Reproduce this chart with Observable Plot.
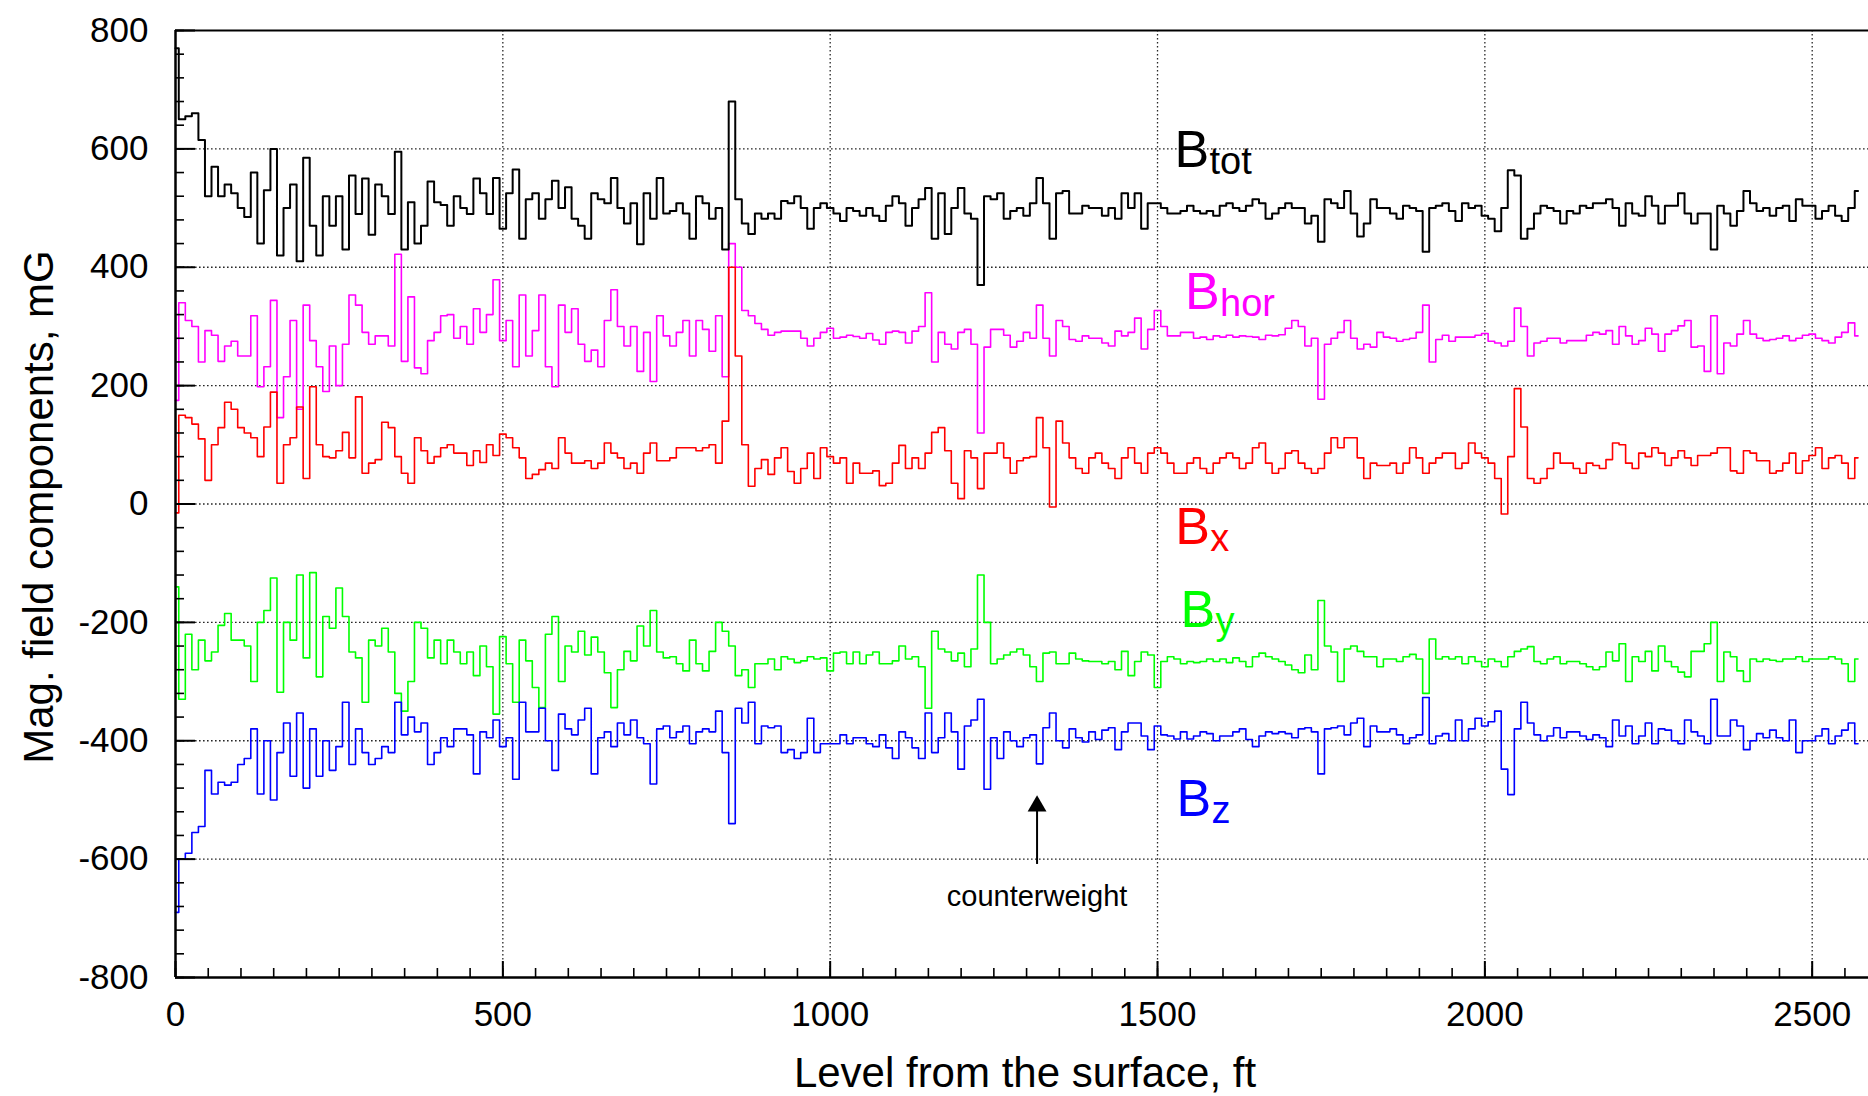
<!DOCTYPE html>
<html><head><meta charset="utf-8">
<script src="https://cdn.jsdelivr.net/npm/d3@7"></script>
<script src="https://cdn.jsdelivr.net/npm/@observablehq/plot@0.6"></script>
<style>
html,body{margin:0;padding:0;background:#fff;overflow:hidden;}
#chart svg{display:block;}
</style></head><body><div id="chart"></div>
<script>
// sampling interval along the shaft (ft); sample i is at depth i*step
const step = 10;

const Btot = [
 770,650,655,660,615,520,570,520,540,525,
 500,485,560,440,530,600,420,500,540,410,
 585,470,420,520,470,520,430,555,490,550,
 455,540,520,490,595,430,510,440,470,545,
 510,505,470,520,500,490,550,525,490,551,
 465,525,565,448,515,525,482,515,546,500,
 535,482,470,448,525,515,508,551,500,474,
 508,439,525,482,551,491,495,508,491,448,
 520,508,482,500,430,680,515,474,456,491,
 482,491,482,512,508,520,500,465,500,508,
 500,491,478,500,495,487,500,487,478,504,
 520,508,470,500,515,534,448,525,456,500,
 534,491,482,370,520,515,525,482,495,500,
 487,508,551,508,448,525,529,491,491,504,
 500,500,487,500,482,525,500,525,465,508,
 508,500,491,491,495,504,495,491,495,487,
 504,508,500,495,504,515,508,482,491,500,
 508,500,500,474,487,443,515,508,500,529,
 491,452,474,515,500,500,491,482,504,500,
 495,426,500,504,508,495,478,508,500,504,
 487,482,461,500,564,555,448,465,491,504,
 500,495,474,495,491,504,500,508,508,515,
 500,470,508,491,487,520,504,474,504,504,
 525,491,474,491,491,430,504,491,470,495,
 529,508,495,500,487,500,504,478,515,504,
 504,482,495,504,487,478,500,529
];

const Bhor = [
 175,340,310,300,240,293,285,241,267,275,
 250,250,318,198,232,344,146,215,310,160,
 336,276,232,190,267,200,270,353,336,290,
 270,284,284,267,422,241,350,230,220,276,
 290,318,320,280,300,270,330,290,320,379,
 276,310,232,353,250,293,353,232,198,336,
 290,330,270,241,260,232,310,362,300,267,
 300,224,290,207,318,284,267,290,310,250,
 310,295,258,318,215,440,400,327,318,305,
 295,285,290,292,292,292,280,267,280,290,
 297,280,282,285,283,280,288,277,270,290,
 292,290,272,292,300,357,240,290,270,262,
 290,295,270,120,265,295,295,285,265,275,
 290,280,336,280,250,310,300,278,275,284,
 280,280,272,267,292,284,290,314,262,295,
 327,300,284,284,290,290,280,282,278,284,
 282,285,282,284,283,282,278,285,284,286,
 297,310,300,267,280,177,270,280,290,310,
 280,262,270,265,290,282,280,275,278,280,
 290,336,240,278,285,275,282,282,282,285,
 288,275,272,267,275,331,300,250,272,275,
 280,280,272,276,276,276,285,290,287,293,
 270,300,284,270,276,297,287,258,287,293,
 301,310,265,267,224,318,220,272,267,287,
 310,287,280,276,278,280,284,276,280,285,
 287,280,276,272,282,290,306,284
];

const Bx = [
 -15,150,146,135,110,40,100,129,172,160,
 129,120,112,80,130,189,35,100,112,164,
 43,198,100,80,78,90,121,78,181,52,
 69,75,138,129,80,52,35,112,90,69,
 80,95,100,86,86,65,90,70,100,82,
 118,112,95,78,43,50,58,69,60,112,
 86,69,69,73,60,69,103,86,78,60,
 69,52,86,103,73,73,78,95,95,95,
 90,95,100,69,140,400,250,100,30,60,
 75,50,78,95,55,35,60,86,43,95,
 80,69,78,35,69,52,52,56,31,35,
 69,99,60,78,60,86,121,129,90,35,
 9,90,78,26,86,86,103,78,52,73,
 78,80,146,95,-5,140,103,78,60,52,
 78,86,69,60,43,78,95,69,52,86,
 95,86,69,52,52,69,78,60,52,69,
 78,86,78,60,69,95,103,69,52,60,
 86,90,69,60,52,60,86,112,95,112,
 112,78,43,69,65,65,69,52,69,95,
 78,52,69,78,86,86,60,69,103,86,
 78,69,43,-17,80,195,130,43,35,43,
 60,86,69,69,60,52,69,65,60,75,
 103,100,69,60,86,80,95,86,65,78,
 90,78,65,82,82,86,95,95,56,52,
 90,86,73,73,52,56,69,86,52,73,
 82,95,60,78,82,69,43,78
];

const By = [
 -140,-330,-220,-280,-230,-265,-250,-205,-185,-230,
 -230,-240,-300,-200,-180,-125,-318,-200,-230,-120,
 -260,-116,-292,-190,-210,-142,-190,-250,-260,-335,
 -230,-240,-210,-250,-320,-350,-300,-200,-210,-260,
 -230,-270,-230,-250,-270,-250,-290,-240,-275,-355,
 -224,-270,-335,-230,-265,-310,-344,-220,-190,-300,
 -240,-250,-215,-255,-225,-250,-285,-344,-280,-249,
 -265,-206,-240,-180,-250,-260,-258,-270,-282,-230,
 -270,-282,-249,-200,-215,-240,-290,-280,-310,-270,
 -270,-262,-280,-258,-262,-268,-265,-258,-262,-260,
 -282,-252,-250,-270,-250,-270,-255,-250,-270,-270,
 -265,-240,-262,-258,-275,-345,-215,-245,-250,-265,
 -252,-275,-245,-120,-200,-270,-262,-255,-250,-245,
 -255,-275,-300,-252,-250,-270,-270,-252,-262,-265,
 -266,-266,-270,-266,-280,-249,-290,-266,-250,-255,
 -310,-266,-258,-262,-270,-266,-268,-266,-262,-266,
 -262,-268,-260,-266,-275,-258,-252,-258,-262,-266,
 -272,-280,-285,-255,-280,-163,-240,-250,-300,-245,
 -240,-249,-258,-258,-275,-262,-262,-266,-258,-254,
 -262,-320,-228,-262,-258,-262,-258,-270,-258,-266,
 -275,-262,-266,-275,-258,-249,-245,-241,-266,-270,
 -262,-258,-270,-266,-266,-270,-275,-280,-275,-250,
 -265,-236,-300,-258,-266,-249,-282,-240,-266,-275,
 -284,-292,-249,-249,-236,-200,-300,-250,-258,-282,
 -300,-262,-266,-262,-264,-266,-262,-262,-258,-266,
 -262,-262,-262,-258,-262,-270,-300,-262
];

const Bz = [
 -690,-600,-590,-555,-545,-450,-490,-470,-475,-470,
 -440,-430,-380,-490,-400,-500,-420,-370,-460,-353,
 -480,-380,-460,-400,-450,-410,-335,-440,-380,-420,
 -440,-430,-410,-420,-335,-390,-360,-385,-370,-440,
 -420,-395,-410,-380,-380,-390,-456,-385,-395,-365,
 -410,-395,-465,-335,-385,-385,-345,-400,-450,-355,
 -380,-390,-365,-345,-456,-395,-385,-410,-370,-390,
 -365,-395,-405,-473,-380,-375,-395,-385,-375,-405,
 -385,-380,-385,-350,-420,-540,-345,-370,-335,-405,
 -375,-378,-375,-420,-415,-430,-420,-362,-420,-405,
 -405,-405,-390,-405,-395,-395,-405,-410,-390,-412,
 -430,-385,-395,-412,-430,-353,-420,-395,-353,-385,
 -448,-375,-365,-330,-482,-395,-430,-385,-400,-410,
 -395,-390,-439,-378,-353,-400,-412,-380,-395,-402,
 -385,-398,-382,-378,-415,-385,-370,-370,-392,-415,
 -375,-390,-392,-397,-385,-397,-392,-385,-388,-400,
 -392,-392,-385,-380,-398,-410,-392,-385,-388,-385,
 -388,-395,-380,-378,-385,-456,-380,-378,-375,-390,
 -370,-362,-410,-375,-385,-385,-380,-390,-405,-395,
 -390,-327,-405,-392,-388,-400,-365,-400,-380,-362,
 -375,-368,-350,-448,-491,-380,-335,-370,-390,-400,
 -392,-378,-395,-385,-385,-392,-398,-390,-395,-410,
 -365,-392,-375,-405,-392,-370,-405,-380,-382,-400,
 -405,-365,-385,-392,-405,-330,-392,-392,-365,-375,
 -415,-400,-388,-395,-382,-395,-400,-365,-420,-400,
 -400,-392,-380,-405,-392,-382,-370,-405
];

// series identities
const seriesKeys = ["hor", "x", "y", "z", "tot"];
const seriesValues = {tot: Btot, hor: Bhor, x: Bx, y: By, z: Bz};
const seriesColors = {tot: "#000000", hor: "#ff00ff", x: "#ff0000", y: "#00ff00", z: "#0000ff"};

// in-plot series labels (depth ft, field mG at text baseline)
const labelNames = ["tot", "hor", "x", "y", "z"];
const labelDepth = [1526, 1542, 1527, 1535, 1529];
const labelField = [569, 330, -67, -207, -527];

// annotation
const noteText = ["counterweight"];
const noteDepth = [1316];
const noteField = [-663];
const arrowFrom = [-609];
const arrowTo = [-497];

// axes
const xTicks = [0, 500, 1000, 1500, 2000, 2500];
const yTicks = [-800, -600, -400, -200, 0, 200, 400, 600, 800];
const xGrid = [500, 1000, 1500, 2000, 2500];
const yGrid = [-600, -400, -200, 0, 200, 400, 600];
const xMinor = d3.range(0, 2600, 50);
const yMinor = d3.range(-800, 801, 40);

const W = 1868, H = 1096;
const mL = 175, mT = 30, mB = 119, mR = 0;
const innerW = W - mL - mR, innerH = H - mT - mB;
const font = "'Liberation Sans', Arial, Helvetica, sans-serif";

const rows = seriesKeys.map(k => seriesValues[k].map((v, i) => ({depth: i * step, value: v, series: k})));
const labels = labelNames.map((n, i) => ({name: n, depth: labelDepth[i], field: labelField[i]}));
const notes = noteText.map((t, i) => ({text: t, depth: noteDepth[i], field: noteField[i], from: arrowFrom[i], to: arrowTo[i]}));

const gridStyle = {stroke: "#000", strokeOpacity: 0.85, strokeWidth: 1.3, strokeDasharray: "1.6,2.4"};

const chart = Plot.plot({
  width: W, height: H,
  marginLeft: mL, marginTop: mT, marginBottom: mB, marginRight: mR,
  style: {fontFamily: font, background: "#fff", color: "#000", overflow: "visible"},
  x: {domain: [0, 2586]},
  y: {domain: [-800, 800]},
  marks: [
    Plot.gridX(xGrid, gridStyle),
    Plot.gridY(yGrid, gridStyle),
    ...rows.map(r => Plot.line(r, {
      x: "depth", y: "value", curve: "step",
      stroke: seriesColors[r[0].series],
      strokeWidth: r[0].series === "tot" ? 2 : 1.6
    })),
    Plot.tickX(xMinor, {x: d => d, insetTop: innerH - 9, stroke: "#000", strokeWidth: 1.6}),
    Plot.tickX(xTicks, {x: d => d, insetTop: innerH - 16, stroke: "#000", strokeWidth: 2}),
    Plot.tickY(yMinor, {y: d => d, insetRight: innerW - 9, stroke: "#000", strokeWidth: 1.6}),
    Plot.tickY(yTicks, {y: d => d, insetRight: innerW - 20, stroke: "#000", strokeWidth: 2}),
    Plot.ruleY([800], {stroke: "#000", strokeWidth: 2}),
    Plot.ruleY([-800], {stroke: "#000", strokeWidth: 2.5}),
    Plot.ruleX([0], {stroke: "#000", strokeWidth: 2.5}),
    Plot.axisX({ticks: xTicks, tickSize: 0, tickPadding: 24, fontSize: 35, label: null, tickFormat: d => String(d)}),
    Plot.axisY({ticks: yTicks, tickSize: 0, tickPadding: 27, fontSize: 35, label: null, tickFormat: d => String(d)}),
    Plot.text(["Level from the surface, ft"], {frameAnchor: "bottom", textAnchor: "middle", dx: 3, dy: 109, fontSize: 42}),
    Plot.text(["Mag. field components, mG"], {frameAnchor: "left", textAnchor: "middle", rotate: -90, dx: -136, dy: 3, fontSize: 42}),
    Plot.text(labels, {x: "depth", y: "field", text: () => "B", fill: d => seriesColors[d.name], fontSize: 52, textAnchor: "start", lineAnchor: "bottom"}),
    Plot.text(labels, {x: "depth", y: "field", text: "name", fill: d => seriesColors[d.name], fontSize: 38, textAnchor: "start", lineAnchor: "bottom", dx: 35, dy: 7}),
    Plot.ruleX(notes, {x: "depth", y1: "from", y2: "to", stroke: "#000", strokeWidth: 2}),
    Plot.dot(notes, {x: "depth", y: "to", symbol: "triangle", r: 7, dy: 8, fill: "#000", stroke: "none"}),
    Plot.text(notes, {x: "depth", y: "field", text: "text", fontSize: 29, fill: "#000"})
  ]
});
document.getElementById("chart").appendChild(chart);
</script>
</body></html>
